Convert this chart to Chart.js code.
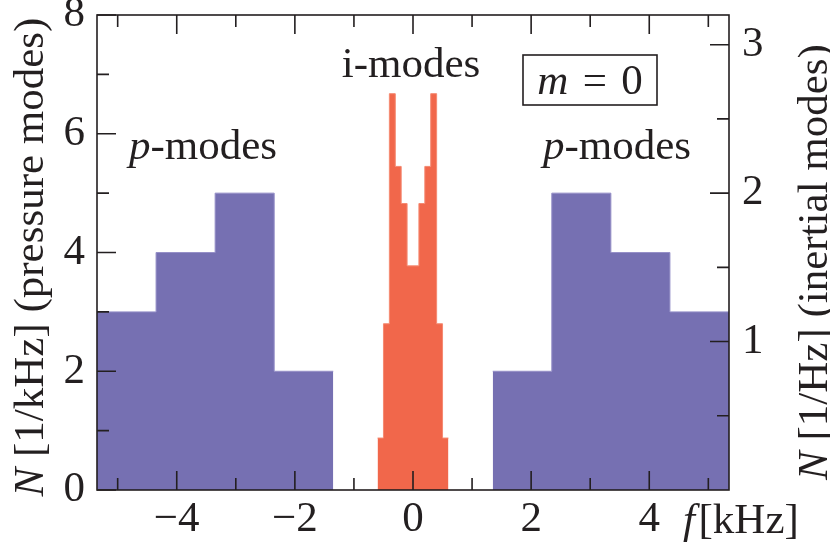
<!DOCTYPE html>
<html>
<head>
<meta charset="utf-8">
<script src="https://cdn.jsdelivr.net/npm/chart.js@4.4.1/dist/chart.umd.min.js"></script>
<style>
html,body{margin:0;padding:0;background:#fff;}
#wrap{width:830px;height:546px;position:relative;}
</style>
</head>
<body>
<div id="wrap"><canvas id="c" width="830" height="546"></canvas></div>
<script>
// ---- data ----
const pLeftEdges   = [-5.35, -4.35, -3.35, -2.35, -1.35];   // kHz
const pLeftCounts  = [3, 4, 5, 2];                          // 1/kHz
const pRightEdges  = [1.35, 2.35, 3.35, 4.35, 5.35];        // kHz
const pRightCounts = [2, 5, 4, 3];                          // 1/kHz
const iEdges   = [-0.6, -0.5, -0.4, -0.3, -0.2, -0.1, 0, 0.1, 0.2, 0.3, 0.4, 0.5, 0.6]; // kHz
const iDensity = [0.35, 1.12, 2.67, 2.18, 1.93, 1.51, 1.51, 1.93, 2.18, 2.67, 1.12, 0.35]; // 1/Hz

const xTickValues  = [-4, -2, 0, 2, 4];
const xMinorValues = [-5, -3, -1, 1, 3, 5];
const yTickValues  = [0, 2, 4, 6, 8];
const yMinorValues = [1, 3, 5, 7];
const y2TickValues = [1, 2, 3];
const y2MinorValues = [0.5, 1.5, 2.5];

// ---- styling ----
const FONT = '"Liberation Serif", "DejaVu Serif", serif';
const FS = 43;
const INK = '#231f20';
const PURPLE = '#7670b2';
const ORANGE = '#f1674b';

function histPoints(edges, vals) {
  const pts = vals.map((v, i) => ({x: edges[i], y: v}));
  pts.push({x: edges[edges.length - 1], y: vals[vals.length - 1]});
  return pts;
}
const fmt = v => v < 0 ? '\u2212' + Math.abs(v) : String(v);

function drawRuns(ctx, runs, x, y, align, rot) {
  ctx.save();
  ctx.translate(x, y);
  if (rot) ctx.rotate(rot);
  ctx.textAlign = 'left';
  ctx.textBaseline = 'alphabetic';
  ctx.fillStyle = INK;
  let total = 0;
  runs.forEach(r => { ctx.font = r.f; r.w = ctx.measureText(r.t).width; total += r.w; });
  let cx = align === 'center' ? -total / 2 : (align === 'right' ? -total : 0);
  runs.forEach(r => { ctx.font = r.f; ctx.fillText(r.t, cx, 0); cx += r.w; });
  ctx.restore();
}
const RM = FS + 'px ' + FONT;
const IT = 'italic ' + FS + 'px ' + FONT;

const decor = {
  id: 'decor',
  afterDatasetsDraw(chart) {
    const ctx = chart.ctx;
    const a = chart.chartArea;
    const sx = chart.scales.x, sy = chart.scales.y, sy2 = chart.scales.y2;
    const LONG = 19, SHORT = 12;
    ctx.save();
    ctx.strokeStyle = INK;
    ctx.lineWidth = 1.6;
    ctx.beginPath();
    const xt = (vals, L) => vals.forEach(v => {
      const px = sx.getPixelForValue(v);
      ctx.moveTo(px, a.bottom); ctx.lineTo(px, a.bottom - L);
      ctx.moveTo(px, a.top); ctx.lineTo(px, a.top + L);
    });
    xt(xTickValues, LONG); xt(xMinorValues, SHORT);
    const yt = (vals, L) => vals.forEach(v => {
      const py = sy.getPixelForValue(v);
      ctx.moveTo(a.left, py); ctx.lineTo(a.left + L, py);
    });
    yt(yTickValues, LONG); yt(yMinorValues, SHORT);
    const y2t = (vals, L) => vals.forEach(v => {
      const py = sy2.getPixelForValue(v);
      ctx.moveTo(a.right, py); ctx.lineTo(a.right - L, py);
    });
    y2t(y2TickValues, LONG); y2t(y2MinorValues, SHORT);
    ctx.stroke();
    ctx.strokeRect(a.left, a.top, a.right - a.left, a.bottom - a.top);
    // m = 0 box
    ctx.strokeRect(523, 55, 134, 50);
    ctx.restore();

    drawRuns(ctx, [{t: 'i-modes', f: RM}], 411, 77, 'center');
    drawRuns(ctx, [{t: 'p', f: IT}, {t: '-modes', f: RM}], 203, 159, 'center');
    drawRuns(ctx, [{t: 'p', f: IT}, {t: '-modes', f: RM}], 617, 159, 'center');
    drawRuns(ctx, [{t: 'm', f: IT}, {t: '\u2005\u200A=\u2005\u200A0', f: RM}], 590, 94, 'center');
    drawRuns(ctx, [{t: 'f', f: IT}, {t: '\u200A[kHz]', f: RM}], 683, 533, 'left');
    drawRuns(ctx, [{t: 'N', f: IT}, {t: ' [1/kHz] (pressure modes)', f: RM}], 43, 257, 'center', -Math.PI / 2);
    drawRuns(ctx, [{t: 'N', f: IT}, {t: ' [1/Hz] (inertial modes)', f: RM}], 827, 262, 'center', -Math.PI / 2);
  }
};

const common = {pointRadius: 0, borderWidth: 1, stepped: 'before', fill: 'origin', tension: 0};

new Chart(document.getElementById('c'), {
  type: 'line',
  data: {
    datasets: [
      Object.assign({label: 'p-modes (left)', data: histPoints(pLeftEdges, pLeftCounts), yAxisID: 'y',
        backgroundColor: PURPLE, borderColor: '#9690c8'}, common),
      Object.assign({label: 'p-modes (right)', data: histPoints(pRightEdges, pRightCounts), yAxisID: 'y',
        backgroundColor: PURPLE, borderColor: '#9690c8'}, common),
      Object.assign({label: 'i-modes', data: histPoints(iEdges, iDensity), yAxisID: 'y2',
        backgroundColor: ORANGE, borderColor: '#f58a72'}, common)
    ]
  },
  options: {
    responsive: false,
    animation: false,
    events: [],
    layout: {padding: {top: 15, left: 0, right: 0, bottom: 0}},
    plugins: {legend: {display: false}, tooltip: {enabled: false}},
    scales: {
      x: {
        type: 'linear', position: 'bottom', min: -5.35, max: 5.35,
        grid: {display: false, drawTicks: false}, border: {display: false},
        ticks: {font: {family: FONT, size: FS, lineHeight: 1.2}, color: INK, padding: 4,
          maxRotation: 0, autoSkip: false, includeBounds: false, callback: fmt},
        afterBuildTicks: s => { s.ticks = xTickValues.map(v => ({value: v})); },
        afterFit: s => { s.height = 56; s.paddingLeft = 0; s.paddingRight = 0; }
      },
      y: {
        type: 'linear', position: 'left', min: 0, max: 8,
        grid: {display: false, drawTicks: false}, border: {display: false},
        ticks: {font: {family: FONT, size: FS, lineHeight: 1.2}, color: INK, padding: 12, callback: fmt},
        afterBuildTicks: s => { s.ticks = yTickValues.map(v => ({value: v})); },
        afterFit: s => { s.width = 97; s.paddingTop = 0; s.paddingBottom = 0; }
      },
      y2: {
        type: 'linear', position: 'right', min: 0, max: 3.2,
        grid: {display: false, drawTicks: false}, border: {display: false},
        ticks: {font: {family: FONT, size: FS, lineHeight: 1.2}, color: INK, padding: 13, callback: fmt},
        afterBuildTicks: s => { s.ticks = y2TickValues.map(v => ({value: v})); },
        afterFit: s => { s.width = 101; s.paddingTop = 0; s.paddingBottom = 0; }
      }
    }
  },
  plugins: [decor]
});
</script>
</body>
</html>
